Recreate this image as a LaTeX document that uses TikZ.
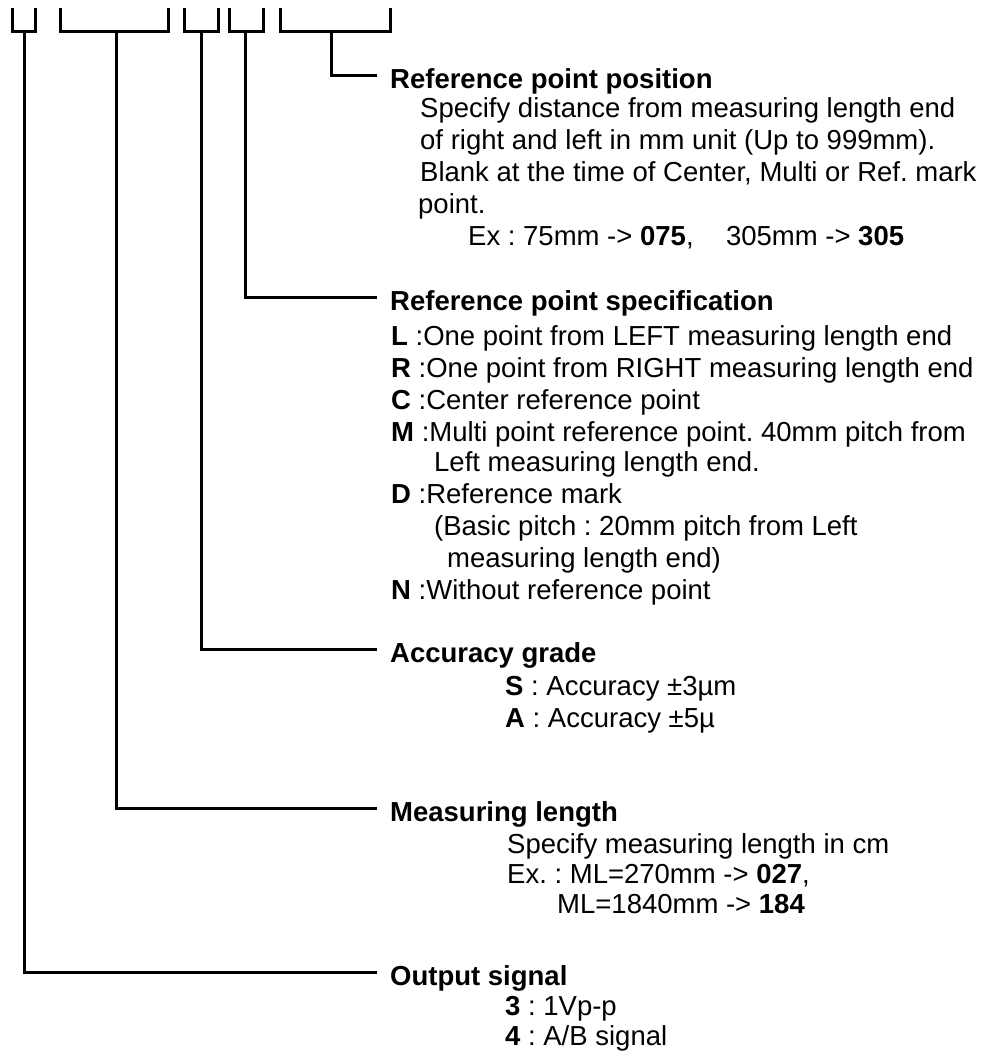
\documentclass[tikz,border=0pt]{standalone}
\usepackage{fontspec}
\setmainfont{Liberation Sans}
\usetikzlibrary{positioning}
\frenchspacing

\begin{document}
\begin{tikzpicture}[x=1pt, y=-1pt,
    bracket/.style={line width=3pt},
    title/.style={font=\fontsize{27.5}{32}\selectfont\bfseries, anchor=west, inner xsep=13pt, inner ysep=0pt, text height=26pt, text depth=0pt},
    body/.style={font=\fontsize{27.5}{32}\selectfont, anchor=base west, inner sep=0pt}]
    \useasboundingbox (0,0) rectangle (997,1052);

    % code field brackets
    \foreach \l/\r/\m/\n in {12/35/24/sig, 60/168/116/len, 184/218/201/acc, 229/263/245/spc, 280/390/331/pos} {
        \draw[bracket] (\l,8) |- (\r,31) -- (\r,8);
        \coordinate (\n) at (\m,31);
    }

    % titles
    \node[title] (tpos) at (377,75)  {Reference point position};
    \node[title] (tspc) at (377,297) {Reference point specification};
    \node[title] (tacc) at (377,649) {Accuracy grade};
    \node[title] (tlen) at (377,808) {Measuring length};
    \node[title] (tsig) at (377,972) {Output signal};

    % leaders
    \foreach \n/\t in {pos/tpos, spc/tspc, acc/tacc, len/tlen, sig/tsig}
        \draw[bracket] (\n) |- (\t.west);

    % reference point position
    \node[body] (pos1) at (420,117) {Specify distance from measuring length end};
    \node[body] (pos2) at (420,149) {of right and left in mm unit (Up to 999mm).};
    \node[body] (pos3) at (420,181) {Blank at the time of Center, Multi or Ref. mark};
    \node[body] (pos4) at (418,213) {point.};
    \node[body] (pos5) at (468,245) {Ex : 75mm -> \textbf{075},\hspace{0.9em} 305mm -> \textbf{305}};

    % reference point specification
    \node[body] (spc1) at (391,345) {\textbf{L} :One point from LEFT measuring length end};
    \node[body] (spc2) at (391,377) {\textbf{R} :One point from RIGHT measuring length end};
    \node[body] (spc3) at (391,409) {\textbf{C} :Center reference point};
    \node[body] (spc4) at (391,441) {\textbf{M} :Multi point reference point. 40mm pitch from};
    \node[body] (spc5) at (434,471) {Left measuring length end.};
    \node[body] (spc6) at (391,503) {\textbf{D} :Reference mark};
    \node[body] (spc7) at (434,535) {(Basic pitch : 20mm pitch from Left};
    \node[body] (spc8) at (447,567) {measuring length end)};
    \node[body] (spc9) at (391,599) {\textbf{N} :Without reference point};

    % accuracy grade
    \node[body] (acc1) at (505,695) {\textbf{S} : Accuracy ±3µm};
    \node[body] (acc2) at (505,727) {\textbf{A} : Accuracy ±5µ};

    % measuring length
    \node[body] (len1) at (507,853) {Specify measuring length in cm};
    \node[body] (len2) at (507,883) {Ex. : ML=270mm -> \textbf{027},};
    \node[body] (len3) at (557,913) {ML=1840mm -> \textbf{184}};

    % output signal
    \node[body] (sig1) at (505,1015) {\textbf{3} : 1Vp-p};
    \node[body] (sig2) at (505,1045) {\textbf{4} : A/B signal};
\end{tikzpicture}
\end{document}
